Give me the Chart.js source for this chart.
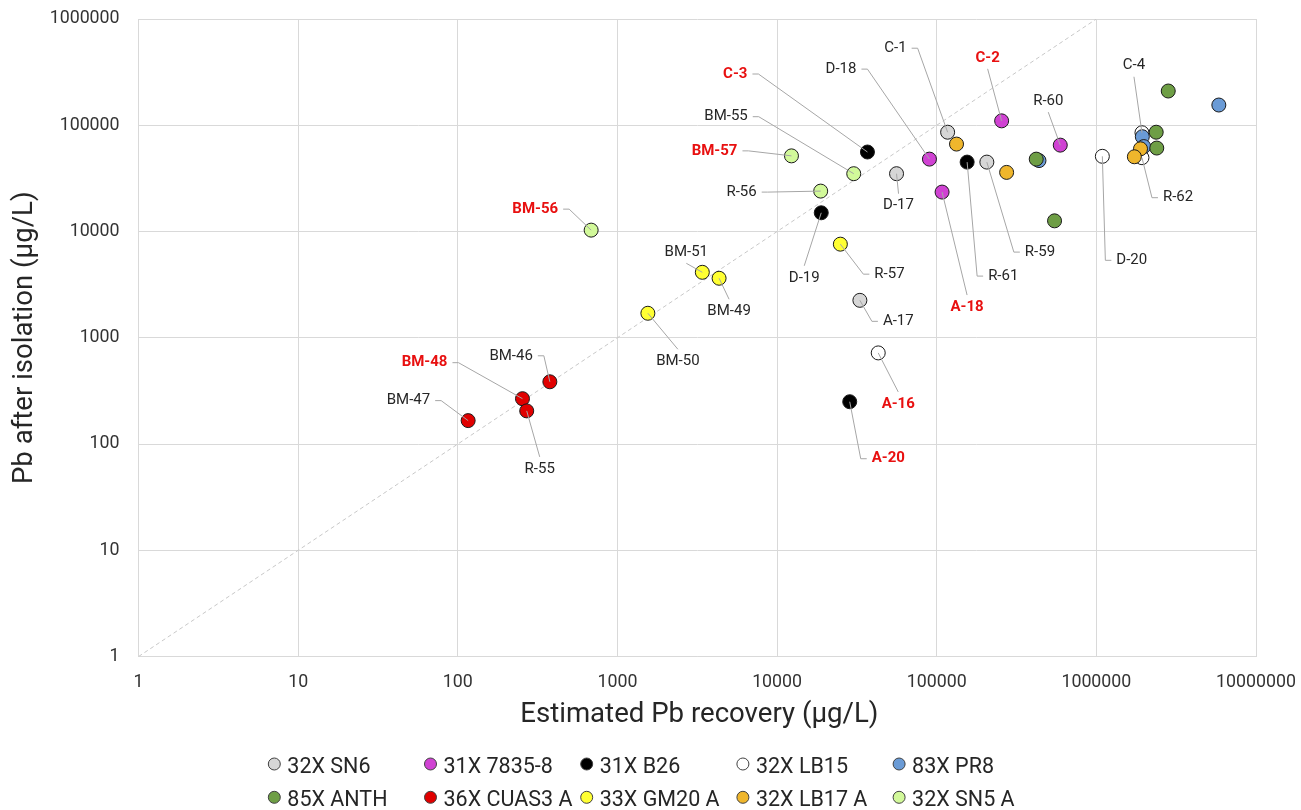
<!DOCTYPE html>
<html>
<head>
<meta charset="utf-8">
<title>Pb recovery</title>
<script src="https://cdn.jsdelivr.net/npm/chart.js@4.4.1/dist/chart.umd.min.js"></script>
<style>
  body { margin: 0; background: #fff; }
  canvas { display: block; }
</style>
</head>
<body>
<canvas id="myChart" width="1301" height="810"></canvas>
<script>
// Tick values
const xTicks = [1, 10, 100, 1000, 10000, 100000, 1000000, 10000000];
const yTicks = [1, 10, 100, 1000, 10000, 100000, 1000000];

// Series (legend order)
const seriesNames = ['32X SN6', '31X 7835-8', '31X B26', '32X LB15', '83X PR8',
                     '85X ANTH', '36X CUAS3 A', '33X GM20 A', '32X LB17 A', '32X SN5 A'];
const seriesColors = ['#d6d6d6', '#d042d3', '#000000', '#ffffff', '#6a9bd6',
                      '#6e9e45', '#e00000', '#ffff33', '#efb62c', '#d2f99a'];

// Sample values: estimated recovery (x) and after isolation (y), ug/L
const sn6Names = ['C-1', 'D-17', 'A-17', 'R-59'];
const sn6X = [117000, 56000, 33000, 206000];
const sn6Y = [86000, 35000, 2250, 45000];

const s7835Names = ['D-18', 'A-18', 'C-2', 'R-60'];
const s7835X = [90000, 108000, 255000, 594000];
const s7835Y = [48000, 23500, 110000, 65000];

const b26Names = ['C-3', 'D-19', 'R-61', 'A-20'];
const b26X = [36800, 18900, 155000, 28500];
const b26Y = [56000, 15000, 45000, 250];

const lb15Names = ['C-4', 'D-20', 'R-62', 'A-16'];
const lb15X = [1930000, 1090000, 1930000, 43000];
const lb15Y = [85000, 51000, 49500, 720];

const pr8Names = ['', '', '', ''];
const pr8X = [437000, 1940000, 1980000, 5850000];
const pr8Y = [46500, 78000, 63000, 155000];

const anthNames = ['', '', '', '', ''];
const anthX = [420000, 547000, 2370000, 2390000, 2820000];
const anthY = [48000, 12600, 86000, 61000, 210000];

const cuasNames = ['BM-46', 'BM-47', 'BM-48', 'R-55'];
const cuasX = [377, 116, 254, 270];
const cuasY = [385, 166, 267, 205];

const gm20Names = ['BM-49', 'BM-50', 'BM-51', 'R-57'];
const gm20X = [4330, 1550, 3400, 24900];
const gm20Y = [3630, 1700, 4130, 7600];

const lb17Names = ['', '', '', ''];
const lb17X = [133000, 274000, 1890000, 1730000];
const lb17Y = [66500, 36000, 60000, 50500];

const sn5Names = ['BM-55', 'BM-56', 'BM-57', 'R-56'];
const sn5X = [30200, 684, 12300, 18750];
const sn5Y = [35000, 10300, 51500, 24000];

const seriesX = [sn6X, s7835X, b26X, lb15X, pr8X, anthX, cuasX, gm20X, lb17X, sn5X];
const seriesY = [sn6Y, s7835Y, b26Y, lb15Y, pr8Y, anthY, cuasY, gm20Y, lb17Y, sn5Y];
const seriesLabels = [sn6Names, s7835Names, b26Names, lb15Names, pr8Names,
                      anthNames, cuasNames, gm20Names, lb17Names, sn5Names];

// samples highlighted in red
const redNames = ['C-3', 'C-2', 'BM-57', 'BM-56', 'BM-48', 'A-18', 'A-16', 'A-20'];

// label placement relative to its point: [dx px, dy px, side]
const labelPlace = {
  'BM-46': [-17, -26, 'right'], 'BM-47': [-38, -20, 'right'], 'BM-48': [-75, -36, 'right'],
  'R-55': [13, 58, 'below'],
  'BM-49': [10, 33, 'below'], 'BM-50': [30, 48, 'below'], 'BM-51': [-16, -20, 'above'],
  'R-57': [34, 30, 'left'],
  'BM-55': [-106, -57, 'right'], 'BM-56': [-33, -21, 'right'], 'BM-57': [-54, -5, 'right'],
  'R-56': [-64, 1, 'right'],
  'A-17': [23, 21, 'left'], 'C-1': [-41, -84, 'right'], 'D-17': [2, 32, 'below'],
  'R-59': [38, 90, 'left'],
  'A-18': [25, 115, 'below'], 'C-2': [-14, -63, 'above'], 'D-18': [-73, -90, 'right'],
  'R-60': [-12, -44, 'above'],
  'A-20': [22, 57, 'left'], 'C-3': [-120, -78, 'right'], 'D-19': [-17, 65, 'below'],
  'R-61': [21, 114, 'left'],
  'A-16': [20, 51, 'below'], 'C-4': [-8, -67, 'above'], 'D-20': [14, 104, 'left'],
  'R-62': [21, 40, 'left']
};

const FONT = 'Roboto';

const datasets = [];
for (let i = 0; i < seriesNames.length; i++) {
  const pts = [];
  for (let j = 0; j < seriesX[i].length; j++) {
    pts.push({x: seriesX[i][j], y: seriesY[i][j], name: seriesLabels[i][j]});
  }
  datasets.push({
    label: seriesNames[i],
    data: pts,
    backgroundColor: seriesColors[i],
    borderColor: '#1a1a1a',
    borderWidth: 1,
    pointRadius: 7,
    pointHoverRadius: 7,
    order: 20 - i  // later series on top
  });
}

// 1:1 reference line
datasets.push({
  type: 'line',
  label: '1:1',
  data: [{x: 1, y: 1}, {x: 1000000, y: 1000000}],
  borderColor: '#c8c8c8',
  borderWidth: 1,
  borderDash: [4, 3],
  pointRadius: 0,
  fill: false,
  order: 100
});

const annotate = {
  id: 'annotate',
  afterDatasetsDraw(chart) {
    const ctx = chart.ctx;
    const xs = chart.scales.x, ys = chart.scales.y;
    ctx.save();
    ctx.lineWidth = 1;
    ctx.strokeStyle = '#a6a6a6';
    ctx.textBaseline = 'middle';
    for (const ds of chart.data.datasets) {
      for (const p of ds.data) {
        if (!p.name || !labelPlace[p.name]) continue;
        const [dx, dy, side] = labelPlace[p.name];
        const px = xs.getPixelForValue(p.x), py = ys.getPixelForValue(p.y);
        const ax = px + dx, ay = py + dy;
        ctx.beginPath();
        ctx.moveTo(px, py);
        if (side === 'right') {
          ctx.lineTo(ax + 11, ay); ctx.lineTo(ax + 5, ay);
        } else if (side === 'left') {
          ctx.lineTo(ax - 11, ay); ctx.lineTo(ax - 5, ay);
        } else if (side === 'below') {
          ctx.lineTo(ax, ay - 12);
        } else {
          ctx.lineTo(ax, ay + 11);
        }
        ctx.stroke();
        const red = redNames.includes(p.name);
        ctx.font = (red ? 'bold ' : '') + '15px ' + FONT;
        ctx.fillStyle = red ? '#e81010' : '#262626';
        ctx.textAlign = side === 'right' ? 'right' : side === 'left' ? 'left' : 'center';
        ctx.fillText(p.name, ax, ay);
      }
    }
    ctx.restore();
  },
  afterDraw(chart) {
    const ctx = chart.ctx;
    const area = chart.chartArea;
    ctx.save();
    ctx.fillStyle = '#262626';
    ctx.font = '27.6px ' + FONT;
    ctx.textAlign = 'center';
    ctx.textBaseline = 'alphabetic';
    ctx.fillText('Estimated Pb recovery (µg/L)', (area.left + area.right) / 2 + 2, 721.7);
    ctx.save();
    ctx.translate(31.7, (area.top + area.bottom) / 2);
    ctx.rotate(-Math.PI / 2);
    ctx.fillText('Pb after isolation (µg/L)', 0, 0);
    ctx.restore();

    // legend, 5 columns x 2 rows
    ctx.font = '21.5px ' + FONT;
    ctx.textAlign = 'left';
    for (let i = 0; i < seriesNames.length; i++) {
      const col = i % 5, row = Math.floor(i / 5);
      const cx = 274.3 + col * 156.2;
      const cy = 764 + row * 33.3;
      ctx.beginPath();
      ctx.arc(cx, cy, 6, 0, Math.PI * 2);
      ctx.fillStyle = seriesColors[i];
      ctx.fill();
      ctx.strokeStyle = '#404040';
      ctx.lineWidth = 1;
      ctx.stroke();
      ctx.fillStyle = '#262626';
      ctx.fillText(seriesNames[i], cx + 13, cy + 8.7);
    }
    ctx.restore();
  }
};

const tickFont = {family: FONT, size: 17.8};

const config = {
  type: 'scatter',
  data: {datasets: datasets},
  options: {
    responsive: false,
    animation: false,
    events: [],
    layout: {padding: {top: 19, right: 45, left: 0, bottom: 0}},
    plugins: {legend: {display: false}, tooltip: {enabled: false}},
    scales: {
      x: {
        type: 'logarithmic',
        min: 1, max: 10000000,
        afterBuildTicks: s => { s.ticks = xTicks.map(v => ({value: v})); },
        afterFit: s => { s.height = 153.5; s.paddingLeft = 0; s.paddingRight = 0; },
        grid: {color: '#d9d9d9', drawTicks: false},
        border: {color: '#d9d9d9'},
        ticks: {font: tickFont, color: '#333', padding: 15, maxRotation: 0, autoSkip: false,
                callback: v => String(v)}
      },
      y: {
        type: 'logarithmic',
        min: 1, max: 1000000,
        afterBuildTicks: s => { s.ticks = yTicks.map(v => ({value: v})); },
        afterFit: s => { s.width = 138.6; s.paddingTop = 0; s.paddingBottom = 0; },
        grid: {color: '#d9d9d9', drawTicks: false},
        border: {color: '#d9d9d9'},
        ticks: {font: tickFont, color: '#333', padding: 19, autoSkip: false,
                callback: v => String(v)}
      }
    }
  },
  plugins: [annotate]
};

const myChart = new Chart(document.getElementById('myChart'), config);
</script>
</body>
</html>
